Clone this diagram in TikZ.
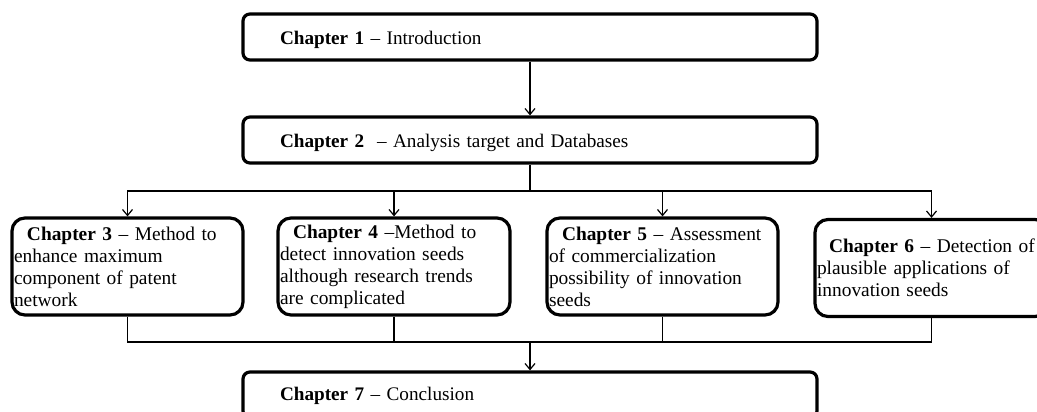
\documentclass[tikz,border=0pt]{standalone}
\usepackage{fontspec}
\setmainfont{Liberation Serif}
\usetikzlibrary{arrows.meta}
\begin{document}
\begin{tikzpicture}[x=1pt,y=-1pt,
  widebox/.style={draw, line width=3.2pt, rounded corners=7pt, align=left,
    font=\fontsize{19.2}{22}\selectfont,
    text width=500pt, inner xsep=37pt, inner ysep=0pt, minimum height=46pt,
    text height=15pt, text depth=0pt},
  chapbox/.style={draw, line width=3.2pt, rounded corners=13pt, align=left,
    font=\fontsize{19.4}{22}\selectfont,
    inner xsep=2pt, inner ysep=0pt, minimum height=97pt},
  conn/.style={line width=1.2pt},
  arr/.style={conn, -{Straight Barb[length=6pt,width=10pt,line width=1.2pt]}}]
\useasboundingbox (0,0) rectangle (1037,412);
\begin{scope}
\clip (0,0) rectangle (1037,412);
\node[widebox] (c1) at (530,37) {\textbf{Chapter 1} – Introduction};
\node[widebox] (c2) at (530,140) {\textbf{Chapter 2}\ \ – Analysis target and Databases};
\node[chapbox, text width=227pt] (c3) at (127.5,266.5)
  {\hspace*{13pt}\textbf{Chapter 3} – Method to\\enhance maximum\\component of patent\\network};
\node[chapbox, text width=228pt] (c4) at (394,266.5)
  {\hspace*{13pt}\textbf{Chapter 4} –Method to\\detect innovation seeds\\although research trends\\are complicated};
\node[chapbox, text width=227pt] (c5) at (662.5,266.5)
  {\hspace*{13pt}\textbf{Chapter 5} – Assessment\\of commercialization\\possibility of innovation\\seeds};
\node[chapbox, text width=229pt] (c6) at (931.5,268)
  {\hspace*{12pt}\textbf{Chapter 6} – Detection of\\plausible applications of\\innovation seeds};
\node[widebox, text height=11pt] (c7) at (530,395) {\textbf{Chapter 7} – Conclusion};
\end{scope}
\coordinate (top) at (530,191);
\coordinate (bot) at (530,342);
\draw[arr] (c1.south) -- (c2.north);
\draw[conn] (c2.south) -- (top);
\draw[arr] (top) -| (c3.north);
\draw[arr] (top) -| (c4.north);
\draw[arr] (top) -| (c5.north);
\draw[arr] (top) -| (c6.north);
\draw[conn] (c3.south) |- (bot);
\draw[conn] (c4.south) |- (bot);
\draw[conn] (c5.south) |- (bot);
\draw[conn] (c6.south) |- (bot);
\draw[arr] (bot) -- (c7.north);
\end{tikzpicture}
\end{document}
